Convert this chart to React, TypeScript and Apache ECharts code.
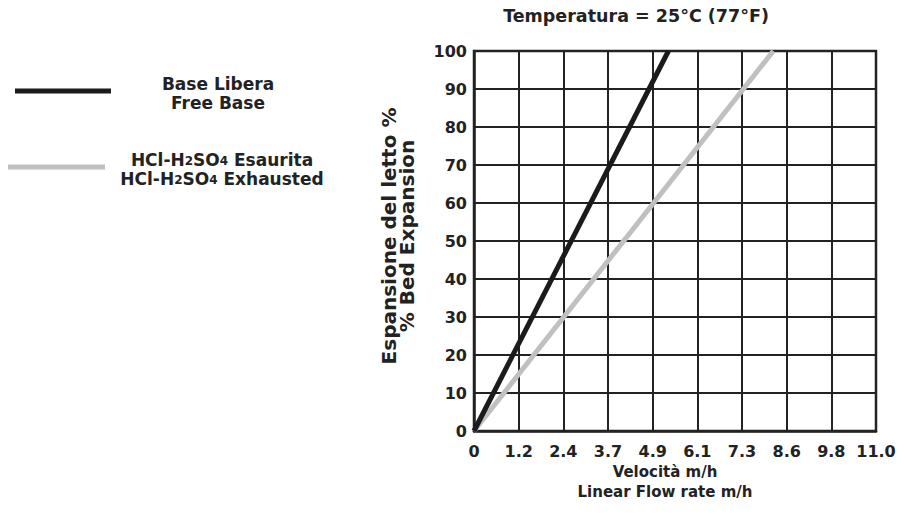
import React, { useEffect, useRef } from "react";
import * as echarts from "echarts";

const xTickLabels = ["0", "1.2", "2.4", "3.7", "4.9", "6.1", "7.3", "8.6", "9.8", "11.0"];
const yTicks = [0, 10, 20, 30, 40, 50, 60, 70, 80, 90, 100];
const freeBase: [number, number][] = [
  [0, 0],
  [5.32, 100],
];
const exhausted: [number, number][] = [
  [0, 0],
  [8.19, 100],
];
const seriesNames = ["Base Libera\nFree Base", "HCl-H2SO4 Esaurita\nHCl-H2SO4 Exhausted"];
const titleText = "Temperatura = 25°C (77°F)";
const yNameLines = ["Espansione del letto %", "% Bed Expansion"];
const xNameLines = ["Velocità m/h", "Linear Flow rate m/h"];

const FONT = "DejaVu Sans";
const XMAX = 11;
const XSTEP = XMAX / 9;

export default function App() {
  const ref = useRef<HTMLDivElement>(null);
  useEffect(() => {
    if (!ref.current) return;
    const chart = echarts.init(ref.current, null, { renderer: "svg" });
    const gridLeft = 474;
    const gridTop = 51;
    const gridW = 402;
    const gridH = 380;
    const textStyle = { fontFamily: FONT, fontWeight: "bold" as const, fill: "#222" };
    chart.setOption({
      animation: false,
      backgroundColor: "#ffffff",
      grid: {
        left: gridLeft,
        top: gridTop,
        width: gridW,
        height: gridH,
        show: true,
        borderColor: "#222",
        borderWidth: 2.5,
      },
      xAxis: {
        type: "value",
        min: 0,
        max: XMAX,
        interval: XSTEP,
        axisLine: { show: true, lineStyle: { color: "#222", width: 2.5 } },
        axisTick: { show: false },
        splitLine: { show: true, lineStyle: { color: "#222", width: 2 } },
        axisLabel: {
          fontFamily: FONT,
          fontWeight: "bold",
          fontSize: 16,
          color: "#222",
          margin: 12,
          showMaxLabel: true,
          formatter: (v: number) => {
            const i = Math.round(v / XSTEP);
            return xTickLabels[i] ?? "";
          },
        },
      },
      yAxis: {
        type: "value",
        min: yTicks[0],
        max: yTicks[yTicks.length - 1],
        interval: yTicks[1] - yTicks[0],
        axisLine: { show: true, lineStyle: { color: "#222", width: 2.5 } },
        axisTick: { show: false },
        splitLine: { show: true, lineStyle: { color: "#222", width: 2 } },
        axisLabel: {
          fontFamily: FONT,
          fontWeight: "bold",
          fontSize: 16,
          color: "#222",
          margin: 7,
          align: "right",
          verticalAlign: "middle",
        },
      },
      series: [
        {
          name: seriesNames[0],
          type: "line",
          data: freeBase,
          showSymbol: false,
          lineStyle: { color: "#1b1b1b", width: 5 },
          z: 4,
        },
        {
          name: seriesNames[1],
          type: "line",
          data: exhausted,
          showSymbol: false,
          lineStyle: { color: "#c0c0c2", width: 5 },
          z: 3,
        },
      ],
      graphic: [
        {
          type: "text",
          x: 636,
          y: 16,
          style: { ...textStyle, text: titleText, fontSize: 17.5, textAlign: "center", textVerticalAlign: "middle" },
        },
        {
          type: "text",
          x: 398,
          y: 236,
          rotation: Math.PI / 2,
          style: {
            ...textStyle,
            text: yNameLines.join("\n"),
            fontSize: 20,
            lineHeight: 18,
            textAlign: "center",
            textVerticalAlign: "middle",
          },
        },
        {
          type: "text",
          x: 665,
          y: 482,
          style: {
            ...textStyle,
            text: xNameLines.join("\n"),
            fontSize: 15,
            lineHeight: 20,
            textAlign: "center",
            textVerticalAlign: "middle",
          },
        },
        { type: "line", shape: { x1: 15, y1: 91, x2: 111, y2: 91 }, style: { stroke: "#1b1b1b", lineWidth: 5 } },
        {
          type: "text",
          x: 218,
          y: 93,
          style: {
            ...textStyle,
            text: seriesNames[0],
            fontSize: 17,
            lineHeight: 19,
            textAlign: "center",
            textVerticalAlign: "middle",
          },
        },
        { type: "line", shape: { x1: 8, y1: 167, x2: 105, y2: 167 }, style: { stroke: "#c0c0c2", lineWidth: 5 } },
        {
          type: "text",
          x: 222,
          y: 168,
          style: {
            ...textStyle,
            text: "{n|HCl-H}{s|2}{n|SO}{s|4}{n| Esaurita}\n{n|HCl-H}{s|2}{n|SO}{s|4}{n| Exhausted}",
            fontSize: 17,
            lineHeight: 19,
            textAlign: "center",
            textVerticalAlign: "middle",
            rich: {
              n: { fontFamily: FONT, fontWeight: "bold", fontSize: 17, fill: "#222", lineHeight: 19, verticalAlign: "bottom" },
              s: { fontFamily: FONT, fontWeight: "bold", fontSize: 12, fill: "#222", lineHeight: 19, verticalAlign: "bottom", padding: [0, 0, 1, 0] },
            },
          },
        },
      ],
    });
    return () => chart.dispose();
  }, []);
  return (
    <div
      ref={ref}
      style={{ position: "fixed", left: 0, top: 0, width: 902, height: 513 }}
    />
  );
}
